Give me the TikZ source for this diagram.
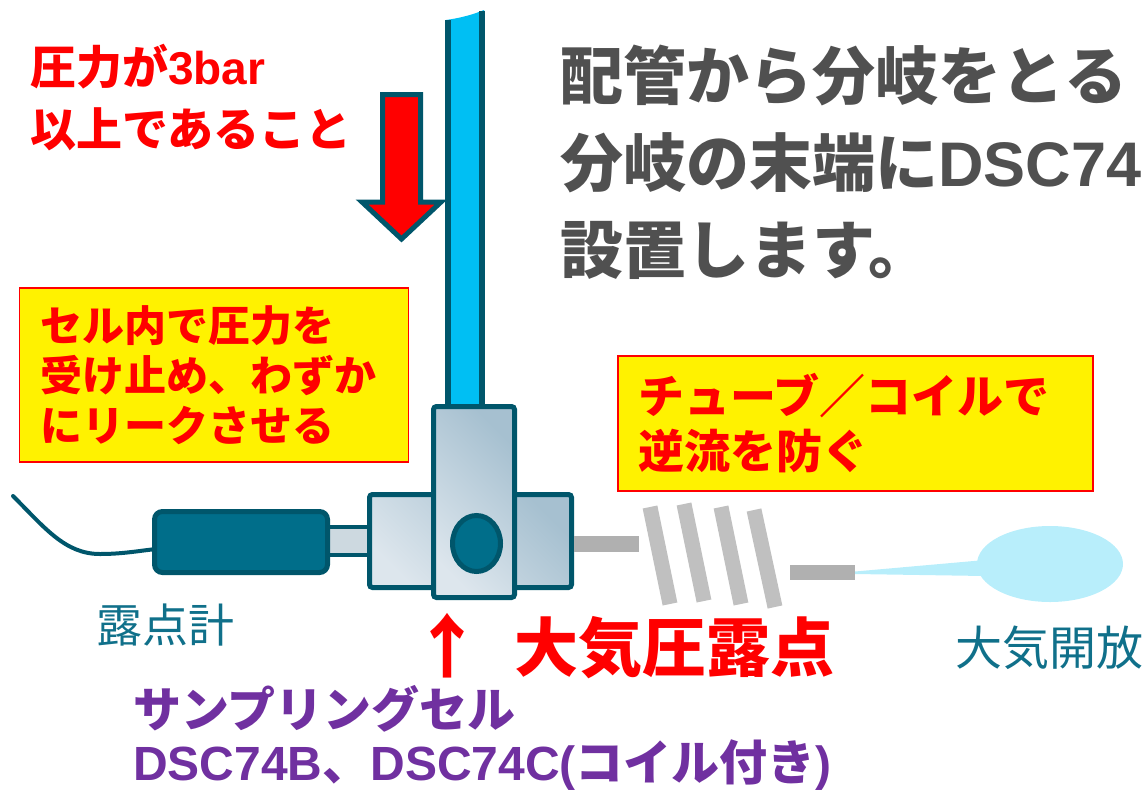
\documentclass[tikz,border=0pt]{standalone}
\usepackage{fontspec}
\newfontfamily\jp{Noto Sans CJK JP}
\newfontfamily\lat{Liberation Sans}
\newcommand\setfs[1]{\fontsize{#1}{#1}\selectfont}
\definecolor{edge}{HTML}{00566B}
\definecolor{meterfill}{HTML}{006E8A}
\definecolor{pipecyan}{HTML}{00BFF3}
\definecolor{celllight}{HTML}{DDE6ED}
\definecolor{celldark}{HTML}{A6C0D0}
\definecolor{stub}{HTML}{CDD9E0}
\definecolor{tube}{HTML}{B0B0B0}
\definecolor{coil}{HTML}{C0C0C0}
\definecolor{airblue}{HTML}{B8EEFB}
\definecolor{labelteal}{HTML}{10708A}
\definecolor{headgray}{HTML}{505050}
\definecolor{cellpurple}{HTML}{7030A0}
\tikzset{
  body/.style={draw=edge, line width=5, rounded corners=3,
    top color=celldark, bottom color=celllight, shading angle=-45},
  notebox/.style={draw=red, line width=1.5, fill=yellow, inner sep=0},
  txt/.style={inner sep=0, anchor=west},
  redbold/.style={txt, text=red, font=\jp\bfseries\setfs{#1}},
}
\begin{document}
\begin{tikzpicture}[x=1pt, y=-1pt]
\useasboundingbox (0,0) rectangle (1145,790);

% supply line coming down from the main pipe
\fill[pipecyan] (446,20) .. controls (460,18) and (472,15) .. (484,10) -- (484,406) -- (446,406) -- cycle;
\draw[edge, line width=5.5] (448,20) -- (448,406);
\draw[edge, line width=5.5] (482,10.5) -- (482,406);

% pressure arrow
\draw[fill=red, draw=edge, line width=5] (382.5,94.5) -- (420.5,94.5) -- (420.5,202)
  -- (441,202) -- (401.5,239) -- (362,202) -- (382.5,202) -- cycle;

% dew point meter with cable
\draw[fill=stub, draw=edge, line width=4] (328,527) rectangle (372,555);
\draw[edge, line width=4, line cap=round] (13,496) .. controls (45,528) and (65,554) .. (100,554)
  .. controls (122,554) and (138,551) .. (156,549);
\draw[fill=meterfill, draw=edge, line width=5, rounded corners=8] (154.5,511.5) rectangle (327.5,572.5);

% sampling cell
\draw[body] (369.5,494.5) rectangle (571.5,587.5);
\draw[body] (433.5,406.5) rectangle (514.5,597.5);
\draw[fill=meterfill, draw=edge, line width=5] (476.5,543.5) ellipse [x radius=24, y radius=28];

% outlet tube and coil
\fill[tube] (574,536) rectangle (639,552);
\foreach \xa/\ya/\xb/\yb in {650/507/670/604, 684/504/704/601, 721/507/741/604, 754/510/775/607}
  \draw[coil, line width=15] (\xa,\ya) -- (\xb,\yb);
\fill[tube] (790,565) rectangle (855,580);

% open-air balloon
\fill[airblue] (855,571.5) -- (985,560) -- (985,576) -- (855,574) -- cycle;
\fill[airblue] (1050,564) ellipse [x radius=73, y radius=38];

% note boxes
\node[notebox, minimum width=389, minimum height=174, anchor=north west] (box1) at (18.5,287) {};
\node[notebox, minimum width=475, minimum height=135, anchor=north west] (box2) at (617,355) {};

% texts
\node[redbold=46] (press) at (30,102.5) {\begin{tabular}{@{}l@{}}圧力が{\lat 3bar}\\[9pt]以上であること\end{tabular}};
\node[txt, text=headgray, font=\jp\bfseries\setfs{63}, align=left] (head) at (560,162)
  {配管から分岐をとる\\[24pt]分岐の末端に{\lat DSC74}\\[24pt]設置します。};
\node[redbold=42, align=left] (note1) at ([xshift=22]box1.west) {セル内で圧力を\\[8pt]受け止め、わずか\\[8pt]にリークさせる};
\node[redbold=46, align=left] (note2) at ([xshift=21]box2.west) {チューブ／コイルで\\[9pt]逆流を防ぐ};
\node[txt, text=labelteal, font=\jp\setfs{46}] (meter) at (96,625) {露点計};
\node[txt, text=labelteal, font=\jp\setfs{47}] (air) at (955,648) {大気開放};
\node[redbold=64] (dew) at (514,648) {大気圧露点};
\node[redbold=70, anchor=center] (up) at (447,646) {↑};
\node[txt, text=cellpurple, font=\jp\bfseries\setfs{48}, align=left] (cell) at (133,738)
  {サンプリングセル\\[5pt]{\lat DSC74B}、{\lat DSC74C(}コイル付き{\lat )}};
\end{tikzpicture}
\end{document}
